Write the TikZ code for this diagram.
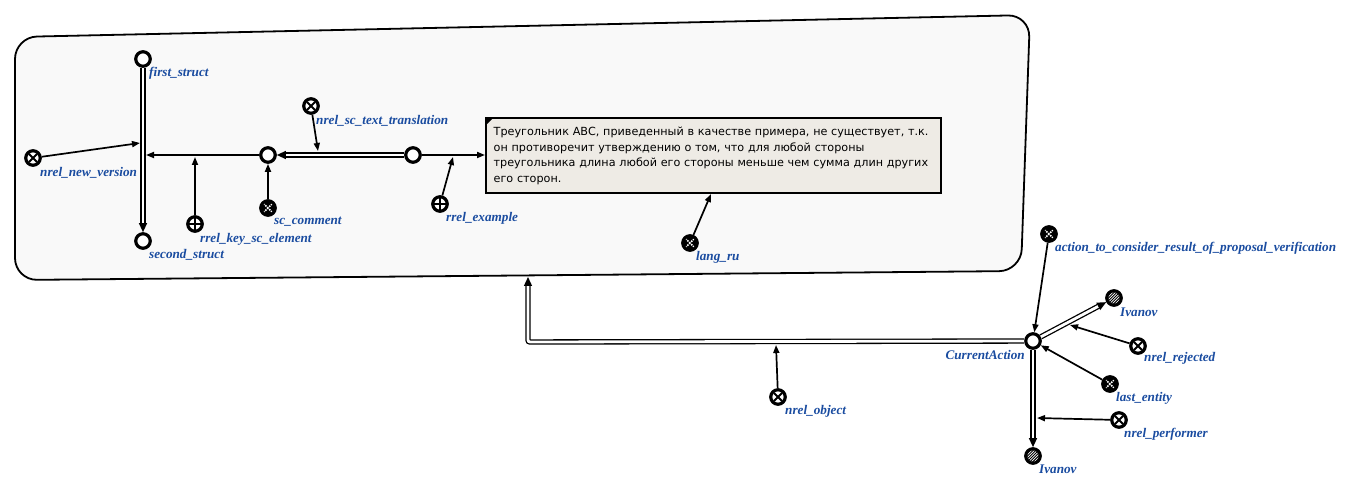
\documentclass[tikz,border=0pt]{standalone}
\usepackage{fontspec}
\setmainfont{Liberation Serif}
\newfontfamily\boxfont{DejaVu Sans}
\usetikzlibrary{arrows.meta,calc}
\definecolor{labblue}{RGB}{26,76,160}
\definecolor{contfill}{RGB}{249,249,249}
\definecolor{boxfill}{RGB}{238,235,229}
\begin{document}
\begin{tikzpicture}[x=1pt,y=-1pt,
  base/.style={circle, draw=black, line width=3.2pt, fill=white, minimum size=14.5pt, inner sep=0pt},
  scnode/.style={base},
  nrelnode/.style={base, path picture={
     \draw[line width=2pt] ([shift={(-4pt,-4pt)}]path picture bounding box.center) -- ([shift={(4pt,4pt)}]path picture bounding box.center)
       ([shift={(-4pt,4pt)}]path picture bounding box.center) -- ([shift={(4pt,-4pt)}]path picture bounding box.center);}},
  rrelnode/.style={base, path picture={
     \draw[line width=2pt] ([shift={(-6pt,0pt)}]path picture bounding box.center) -- ([shift={(6pt,0pt)}]path picture bounding box.center)
       ([shift={(0pt,-6pt)}]path picture bounding box.center) -- ([shift={(0pt,6pt)}]path picture bounding box.center);}},
  classnode/.style={base, fill=black, path picture={
     \draw[white, line width=1.6pt, dash pattern=on 1.6pt off 1.1pt] ([shift={(-4.6pt,-4.6pt)}]path picture bounding box.center) -- ([shift={(4.6pt,4.6pt)}]path picture bounding box.center)
       ([shift={(-4.6pt,4.6pt)}]path picture bounding box.center) -- ([shift={(4.6pt,-4.6pt)}]path picture bounding box.center);}},
  matnode/.style={base, path picture={
     \foreach \d in {-8.4,-5.6,-2.8,0,2.8,5.6,8.4}{
       \draw[line width=0.9pt] ([shift={(\d pt-8pt,-8pt)}]path picture bounding box.center) -- ([shift={(\d pt+8pt,8pt)}]path picture bounding box.center);}}},
  lab/.style={anchor=west, inner sep=0pt, text=labblue, font=\fontsize{13.2}{14}\selectfont\bfseries\itshape},
  acc/.style={line width=1.7pt, -{Triangle[length=8pt,width=6pt]}},
  com/.style={line width=1.3pt, double=white, double distance=2.8pt, -{Triangle[length=9pt,width=8pt]}}
]
\useasboundingbox (0,0) rectangle (1349,486);

% contour
\draw[line width=1.8pt, fill=contfill, rounded corners=22pt] (15,37) -- (1030,15) -- (1021,271) -- (15,280) -- cycle;

% text box
\node[draw, line width=2.4pt, fill=boxfill, anchor=north west, text width=440pt, align=left,
      inner xsep=7.5pt, inner ysep=5pt, minimum height=75pt,
      font=\boxfont\fontsize{11.2}{15.5}\selectfont] (tb) at (485,117)
 {Треугольник АВС, приведенный в качестве примера, не существует, т.к.\\
  он противоречит утверждению о том, что для любой стороны\\
  треугольника длина любой его стороны меньше чем сумма длин других\\
  его сторон.};
\fill (487,119) -- (492,119) -- (487,124) -- cycle;

% nodes
\node[scnode] (fs) at (143,59) {};
\node[scnode] (ss) at (143,241) {};
\node[nrelnode] (nnv) at (33,158) {};
\node[scnode] (n1) at (268,155) {};
\node[scnode] (n2) at (413,155) {};
\node[rrelnode] (rkse) at (195,224) {};
\node[classnode] (scc) at (268,208) {};
\node[nrelnode] (nstt) at (311,106) {};
\node[rrelnode] (rex) at (440,204) {};
\node[classnode] (lru) at (690,243) {};
\node[scnode] (ca) at (1033,341) {};
\node[classnode] (act) at (1049,234) {};
\node[matnode] (iv1) at (1114,298) {};
\node[nrelnode] (nrej) at (1138,346) {};
\node[classnode] (last) at (1110,384) {};
\node[nrelnode] (nperf) at (1119,420) {};
\node[matnode] (iv2) at (1033,456) {};
\node[nrelnode] (nobj) at (778,397) {};

% coordinates on arcs
\coordinate (v1) at (140,143);
\coordinate (v2) at (146,155);
\coordinate (h1) at (195,157);
\coordinate (d1) at (318,151);
\coordinate (ex1) at (453,157);
\coordinate (lr1) at (711,194);
\coordinate (bend) at (528,342);
\coordinate (cb) at (528,277);
\coordinate (ho) at (776,345);
\coordinate (rj) at (1070,325);
\coordinate (pf) at (1037,418);

% connectors
\draw[com] (fs) -- (ss);
\draw[acc] (nnv) -- (v1);
\draw[acc] (n1) -- (v2);
\draw[acc] (rkse) -- (h1);
\draw[acc] (scc) -- (n1);
\draw[com] (n2) -- (n1);
\draw[acc] (nstt) -- (d1);
\draw[acc] (n2) -- (n2 -| tb.west);
\draw[acc] (rex) -- (ex1);
\draw[acc] (lru) -- (lr1);
\draw[com, rounded corners=2pt] (ca) -- (bend) -- (cb);
\draw[acc] (nobj) -- (ho);
\draw[acc] (act) -- (ca);
\draw[com] (ca) -- (iv1);
\draw[acc] (nrej) -- (rj);
\draw[acc] (last) -- (ca);
\draw[com] (ca) -- (iv2);
\draw[acc] (nperf) -- (pf);

% labels
\node[lab] (lfs) at (149,73) {first\_struct};
\node[lab] (lnnv) at (40,173) {nrel\_new\_version};
\node[lab] (lss) at (149,255) {second\_struct};
\node[lab] (lrkse) at (200,239) {rrel\_key\_sc\_element};
\node[lab] (lscc) at (274,222) {sc\_comment};
\node[lab] (lnstt) at (316,121) {nrel\_sc\_text\_translation};
\node[lab] (lrex) at (446,218) {rrel\_example};
\node[lab] (llru) at (696,257) {lang\_ru};
\node[lab] (lact) at (1055,248) {action\_to\_consider\_result\_of\_proposal\_verification};
\node[lab] (liv1) at (1120,312) {Ivanov};
\node[lab] (lnrej) at (1144,358) {nrel\_rejected};
\node[lab] (llast) at (1116,398) {last\_entity};
\node[lab] (lnperf) at (1124,434) {nrel\_performer};
\node[lab] (liv2) at (1039,469) {Ivanov};
\node[lab, anchor=east] (lca) at (1025,355) {CurrentAction};
\node[lab] (lnobj) at (785,411) {nrel\_object};
\end{tikzpicture}
\end{document}
